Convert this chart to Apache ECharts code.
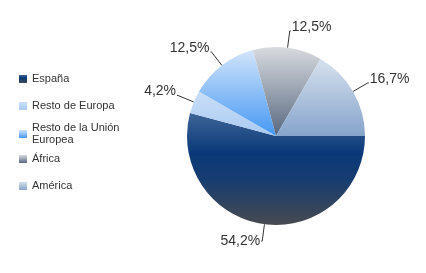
<!DOCTYPE html>
<html><head><meta charset="utf-8">
<script src="https://cdn.jsdelivr.net/npm/echarts@6/dist/echarts.min.js"></script>
<style>html,body{margin:0;padding:0;background:#fff}#c{width:426px;height:273px}</style>
</head><body><div id="c"></div>
<script>
var categories = ['España', 'Resto de Europa', 'Resto de la Unión Europea', 'África', 'América'];
var values = [54.2, 4.2, 12.5, 12.5, 16.7];
var legendTops = [67, 94, 117, 147, 174];

function grad(stops) {
  return {type: 'linear', x: 0, y: 0, x2: 0, y2: 1,
    colorStops: stops.map(function (s) { return {offset: s[0], color: s[1]}; })};
}
var colors = [
  grad([[0, '#3e6597'], [0.36, '#0a3878'], [0.6, '#173d70'], [1, '#474a50']]),
  grad([[0, '#cadff7'], [1, '#a9caf2']]),
  grad([[0, '#d2e4fa'], [1, '#4598f4']]),
  grad([[0, '#d8dbdf'], [1, '#58687f']]),
  grad([[0, '#d6e1ee'], [1, '#86a4cb']])
];

var legends = categories.map(function (name, i) {
  return {
    orient: 'vertical', left: 14, top: legendTops[i],
    data: [name], itemWidth: 8, itemHeight: 8, itemGap: 0,
    icon: 'rect',
    formatter: function (n) { return n === 'Resto de la Unión Europea' ? 'Resto de la Unión\nEuropea' : n; },
    textStyle: {fontFamily: 'Liberation Sans, Arial, sans-serif', fontSize: 11, color: '#333', lineHeight: i === 2 ? 12 : 14}
  };
});

var chart = echarts.init(document.getElementById('c'), null, {renderer: 'canvas'});
chart.setOption({
  animation: false,
  legend: legends,
  series: [{
    type: 'pie',
    center: [276, 136],
    radius: 89,
    startAngle: 0,
    clockwise: true,
    avoidLabelOverlap: false,
    data: categories.map(function (n, i) {
      return {name: n, value: values[i], itemStyle: {color: colors[i]}};
    }),
    label: {
      show: true,
      formatter: function (p) { return p.value.toFixed(1).replace('.', ',') + '%'; },
      fontFamily: 'Liberation Sans, Arial, sans-serif',
      fontSize: 14, color: '#333',
      distanceToLabelLine: 1
    },
    labelLayout: function (p) { return {dy: p.dataIndex === 0 ? 0 : -4}; },
    labelLine: {show: true, length: 17, length2: 1, smooth: false, lineStyle: {color: '#333', width: 1}},
    emphasis: {disabled: true}
  }]
});
</script></body></html>
